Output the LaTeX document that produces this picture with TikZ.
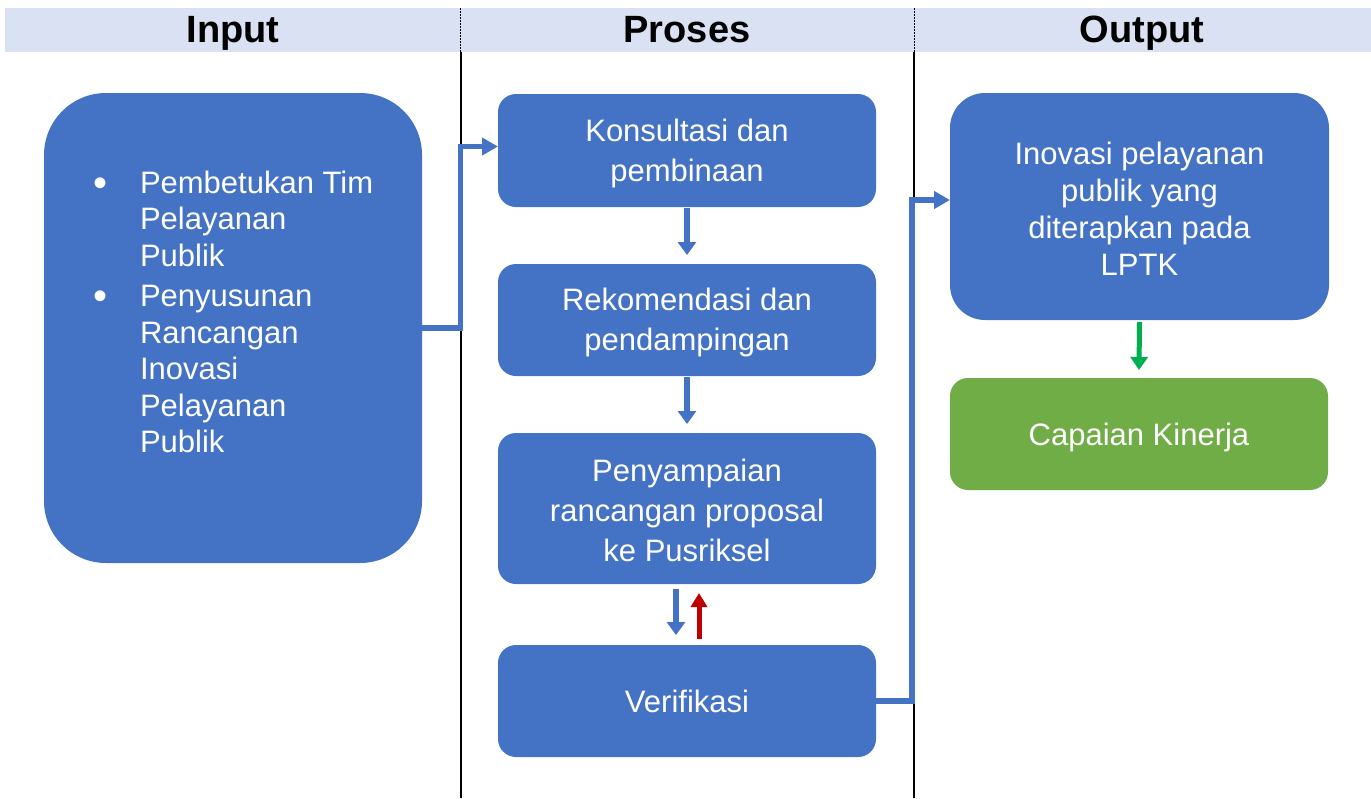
\documentclass[tikz,border=0pt]{standalone}
\usepackage{fontspec}
\setmainfont{Liberation Sans}
\usetikzlibrary{arrows.meta}
\definecolor{boxblue}{HTML}{4472C4}
\definecolor{boxgreen}{HTML}{70AD47}
\definecolor{arrowgreen}{HTML}{00B050}
\definecolor{arrowred}{HTML}{C00000}
\definecolor{bandfill}{RGB}{218,225,242}
\newcommand{\bigbul}{\makebox[47pt][l]{\raisebox{-3pt}{\fontsize{40}{36.5}\selectfont\textbullet}}}
\newcommand{\lift}[1]{\rule{0pt}{#1pt}}
\begin{document}
\begin{tikzpicture}[x=1pt,y=-1pt,
  every node/.style={inner sep=0pt, outer sep=0pt},
  box/.style={fill=boxblue, text=white, rounded corners=18pt,
    minimum width=378pt, minimum height=112pt, align=center,
    font=\fontsize{31}{40}\selectfont},
  head/.style={anchor=base, font=\fontsize{38}{40}\selectfont\bfseries},
  flow/.style={draw=boxblue, line width=5.5pt, -{Triangle[length=16pt,width=17pt]}},
  down/.style={draw=boxblue, line width=6pt, -{Triangle[length=13pt,width=18pt]}},
  divider/.style={line width=2pt}
]
\useasboundingbox (0,0) rectangle (1371,798);

% header band with column titles
\fill[bandfill] (5,8) rectangle (1371,52);
\draw[line width=0.8pt, dash pattern=on 2pt off 1pt] (460.5,8) -- (460.5,52);
\draw[line width=0.8pt, dash pattern=on 2pt off 1pt] (914,8) -- (914,52);
\node[head] (hin)  at (233,42)  {Input};
\node[head] (hpro) at (687,42)  {Proses};
\node[head] (hout) at (1142,42) {Output};

% column dividers
\draw[divider] (460.5,52) -- (460.5,798);
\draw[divider] (914,52) -- (914,798);

% input column
\node[box, rounded corners=62pt, minimum width=378pt, minimum height=470pt] (inbox) at (233,328) {};
\node[anchor=west, text=white, align=left, font=\fontsize{31}{36.5}\selectfont] (intext) at (93,312)
  {\bigbul Pembetukan Tim\\
   \hspace*{47pt}Pelayanan\\
   \hspace*{47pt}Publik\\[4pt]
   \bigbul Penyusunan\\
   \hspace*{47pt}Rancangan\\
   \hspace*{47pt}Inovasi\\
   \hspace*{47pt}Pelayanan\\
   \hspace*{47pt}Publik};

% process column
\node[box, minimum height=113pt] (k1) at (687,150.5) {\lift{29}Konsultasi dan\\pembinaan};
\node[box] (k2) at (687,320) {\lift{27}Rekomendasi dan\\pendampingan};
\node[box, minimum height=151pt] (k3) at (687,508.5) {\lift{27}Penyampaian\\rancangan proposal\\ke Pusriksel};
\node[box] (k4) at (687,701) {Verifikasi};

% output column
\node[box, rounded corners=35pt, minimum width=379pt, minimum height=227pt,
  font=\fontsize{31}{37}\selectfont] (out1) at (1139.5,206.5)
  {\lift{27}Inovasi pelayanan\\publik yang\\diterapkan pada\\LPTK};
\node[box, fill=boxgreen] (cap) at (1139,434) {\lift{29}Capaian Kinerja};

% connectors
\draw[flow] (inbox.east) -- ++(38.5,0) |- ([yshift=4pt]k1.west);
\draw[flow] (k4.east) -- ++(36,0) |- ([yshift=6.5pt]out1.west);
\draw[down] ([yshift=-1pt]k1.south) -- ([yshift=9pt]k2.north);
\draw[down] ([yshift=-1pt]k2.south) -- ([yshift=9pt]k3.north);
\draw[down] ([xshift=-11pt,yshift=-5pt]k3.south) -- ([xshift=-11pt,yshift=10pt]k4.north);
\draw[down, draw=arrowred, fill=arrowred, line width=5pt, -{Triangle[length=14pt,width=16pt]}]
  ([xshift=12pt,yshift=6pt]k4.north) -- ([xshift=12pt,yshift=-9pt]k3.south);
\draw[down, draw=arrowgreen, line width=5pt, -{Triangle[length=13pt,width=17pt]}]
  ([yshift=-2pt]out1.south) -- ([yshift=8pt]cap.north);
\end{tikzpicture}
\end{document}
